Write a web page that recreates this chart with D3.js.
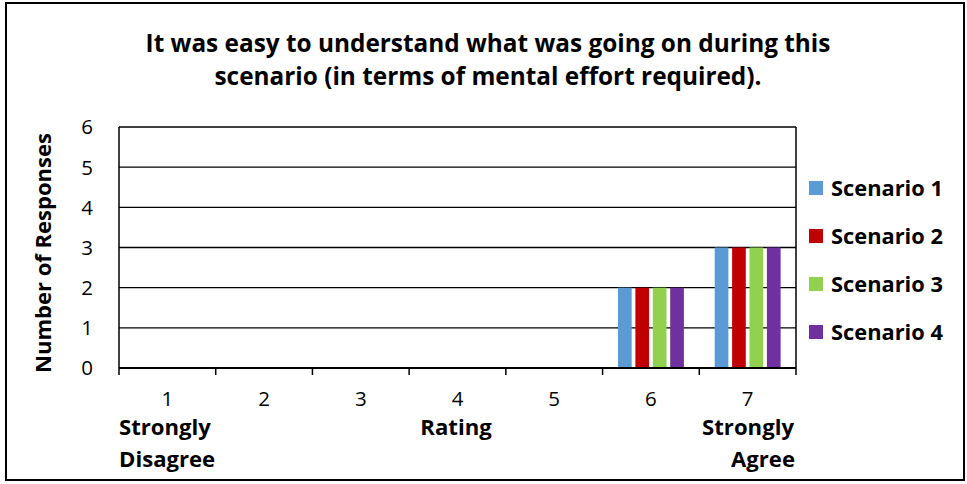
<!DOCTYPE html>
<html>
<head>
<meta charset="utf-8">
<script src="https://cdn.jsdelivr.net/npm/d3@7"></script>
<style>
  html, body { margin: 0; padding: 0; background: #fff; }
  svg { display: block; }
  text { font-family: "Open Sans", Lato, sans-serif; fill: #000; }
</style>
</head>
<body>
<svg id="chart" width="967" height="484"></svg>
<script>
// ---- data ----
const categories = ["1", "2", "3", "4", "5", "6", "7"];
const seriesNames = ["Scenario 1", "Scenario 2", "Scenario 3", "Scenario 4"];
const scenario1 = [0, 0, 0, 0, 0, 2, 3];
const scenario2 = [0, 0, 0, 0, 0, 2, 3];
const scenario3 = [0, 0, 0, 0, 0, 2, 3];
const scenario4 = [0, 0, 0, 0, 0, 2, 3];
const yTicks = [0, 1, 2, 3, 4, 5, 6];
const colors = ["#5B9BD5", "#C00000", "#92D050", "#7030A0"];
const titleLines = ["It was easy to understand what was going on during this",
                    "scenario (in terms of mental effort required)."];

const seriesValues = [scenario1, scenario2, scenario3, scenario4];

const svg = d3.select("#chart");

// scale font so that a reference text element reaches a target width
function fitSize(sel, target) {
  const node = sel.node();
  const fs = parseFloat(sel.attr("font-size"));
  const w = node.getComputedTextLength();
  return fs * target / w;
}

// outer border
svg.append("rect").attr("x", 6).attr("y", 3).attr("width", 958).attr("height", 477)
  .attr("fill", "#fff").attr("stroke", "#000").attr("stroke-width", 2);

const plot = { left: 119, right: 796, top: 127, bottom: 368 };

const x0 = d3.scaleBand().domain(categories).range([plot.left, plot.right]).padding(0);
const x1 = d3.scaleBand().domain(seriesNames).range([0, x0.bandwidth()])
  .paddingInner(0.213).paddingOuter(0.885);
const y = d3.scaleLinear().domain([0, 6]).range([plot.bottom, plot.top]);

// gridlines
svg.append("g").selectAll("line").data(yTicks.filter(d => d > 0)).join("line")
  .attr("x1", plot.left).attr("x2", plot.right)
  .attr("y1", d => y(d)).attr("y2", d => y(d))
  .attr("stroke", "#000").attr("stroke-width", 1.3);

// plot frame left/right
svg.append("line").attr("x1", plot.left).attr("x2", plot.left).attr("y1", plot.top).attr("y2", plot.bottom)
  .attr("stroke", "#000").attr("stroke-width", 1.5);
svg.append("line").attr("x1", plot.right).attr("x2", plot.right).attr("y1", plot.top).attr("y2", plot.bottom)
  .attr("stroke", "#000").attr("stroke-width", 1.5);

// bars
const groups = svg.append("g").selectAll("g").data(categories).join("g")
  .attr("transform", d => `translate(${x0(d)},0)`);
groups.selectAll("rect")
  .data((c, ci) => seriesNames.map((s, si) => ({ s, si, v: seriesValues[si][ci] })))
  .join("rect")
  .attr("x", d => x1(d.s))
  .attr("width", x1.bandwidth())
  .attr("y", d => y(d.v))
  .attr("height", d => y(0) - y(d.v))
  .attr("fill", d => colors[d.si]);

// x axis line and ticks at band boundaries
svg.append("line").attr("x1", plot.left).attr("x2", plot.right).attr("y1", y(0)).attr("y2", y(0))
  .attr("stroke", "#000").attr("stroke-width", 2);
const boundaries = categories.map(c => x0(c)).concat([x0.range()[1]]);
svg.append("g").selectAll("line").data(boundaries).join("line")
  .attr("x1", d => d).attr("x2", d => d)
  .attr("y1", y(0)).attr("y2", y(0) + 7)
  .attr("stroke", "#000").attr("stroke-width", 1.5);

// x tick labels
svg.append("g").selectAll("text").data(categories).join("text")
  .attr("x", d => x0(d) + x0.bandwidth() / 2)
  .attr("y", 406)
  .attr("text-anchor", "middle")
  .attr("font-size", 20.5)
  .text(d => d);

// y tick labels
svg.append("g").selectAll("text").data(yTicks).join("text")
  .attr("x", 93).attr("y", d => y(d))
  .attr("dy", "0.36em")
  .attr("text-anchor", "end")
  .attr("font-size", 20.5)
  .text(d => d);

// anchor labels
const lbl = (txt, xx, yy, anchor) => svg.append("text").attr("x", xx).attr("y", yy)
  .attr("text-anchor", anchor).attr("font-size", 20).attr("font-weight", "bold").text(txt);
const s1 = lbl("Strongly", plot.left, 435, "start");
const lblSize = fitSize(s1, 92);
s1.attr("font-size", lblSize);
lbl("Disagree", plot.left, 467, "start").attr("font-size", lblSize);
lbl("Rating", 456, 435, "middle").attr("font-size", lblSize);
lbl("Strongly", plot.right - 2, 435, "end").attr("font-size", lblSize);
lbl("Agree", plot.right - 1, 467, "end").attr("font-size", lblSize);

// y axis title
const yt = svg.append("text")
  .attr("transform", `translate(51,${(133 + 373) / 2}) rotate(-90)`)
  .attr("text-anchor", "middle")
  .attr("font-size", 20).attr("font-weight", "bold")
  .text("Number of Responses");
yt.attr("font-size", fitSize(yt, 240));

// title
const tl = svg.append("g").selectAll("text").data(titleLines).join("text")
  .attr("x", 488).attr("y", (d, i) => 52 + i * 33)
  .attr("text-anchor", "middle")
  .attr("font-size", 21).attr("font-weight", "bold")
  .text(d => d);
tl.attr("font-size", fitSize(d3.select(tl.nodes()[0]), 685));

// legend
const leg = svg.append("g").selectAll("g").data(seriesNames).join("g")
  .attr("transform", (d, i) => `translate(809,${181 + i * 48})`);
leg.append("rect").attr("width", 14).attr("height", 14).attr("fill", (d, i) => colors[i]);
const lt = leg.append("text").attr("x", 22).attr("y", 7).attr("dy", "0.35em")
  .attr("font-size", 19).attr("font-weight", "bold").text(d => d);
lt.attr("font-size", fitSize(d3.select(lt.nodes()[0]), 112));
</script>
</body>
</html>
